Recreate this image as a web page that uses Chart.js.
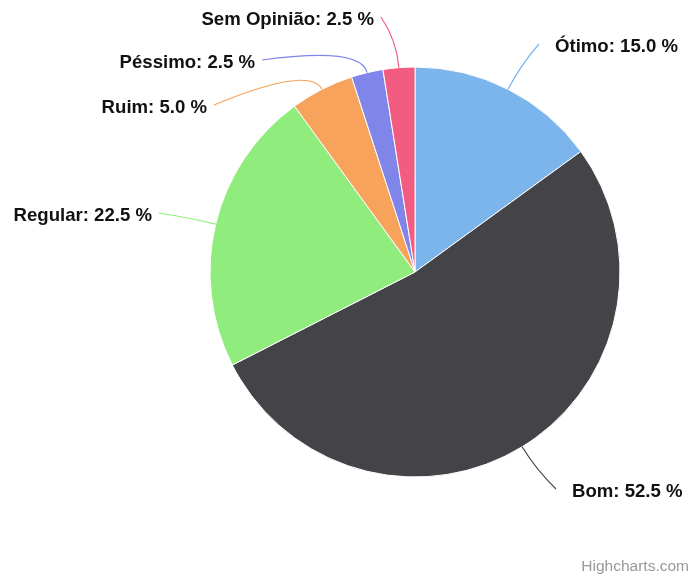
<!DOCTYPE html>
<html>
<head>
<meta charset="utf-8">
<script src="https://cdn.jsdelivr.net/npm/chart.js@4/dist/chart.umd.min.js"></script>
<style>
  html, body { margin: 0; padding: 0; background: #fff; }
  #wrap { width: 692px; height: 576px; position: relative; }
</style>
</head>
<body>
<div id="wrap"><canvas id="pie"></canvas></div>
<script>
// chart data
const categories = ['Ótimo', 'Bom', 'Regular', 'Ruim', 'Péssimo', 'Sem Opinião'];
const shares = [15.0, 52.5, 22.5, 5.0, 2.5, 2.5];
const sliceColors = ['#7cb5ec', '#434348', '#90ed7d', '#f7a35c', '#8085e9', '#f15c80'];

// where each data label text sits (x, y, side)
const labelSpots = [
    { x: 555, y: 47, side: 'right' },
    { x: 572, y: 492, side: 'right' },
    { x: 152, y: 216, side: 'left' },
    { x: 207, y: 108, side: 'left' },
    { x: 255, y: 63, side: 'left' },
    { x: 374, y: 20, side: 'left' }
];

const pieLabels = {
    id: 'pieLabels',
    afterDatasetsDraw(chart) {
        const ctx = chart.ctx;
        const meta = chart.getDatasetMeta(0);
        ctx.save();
        ctx.font = 'bold 18.6px "Liberation Sans", Arial, sans-serif';
        ctx.textBaseline = 'middle';
        meta.data.forEach((arc, i) => {
            const p = arc.getProps(['x', 'y', 'startAngle', 'endAngle', 'outerRadius'], true);
            const mid = (p.startAngle + p.endAngle) / 2;
            const ex = p.x + Math.cos(mid) * p.outerRadius;
            const ey = p.y + Math.sin(mid) * p.outerRadius;
            const ox = p.x + Math.cos(mid) * (p.outerRadius + 27);
            const oy = p.y + Math.sin(mid) * (p.outerRadius + 27);
            const spot = labelSpots[i];
            const right = spot.side === 'right';
            const lx = right ? spot.x - 16 : spot.x + 7;
            const ly = spot.y - 3;
            ctx.beginPath();
            ctx.moveTo(ex, ey);
            ctx.quadraticCurveTo(ox, oy, lx, ly);
            ctx.strokeStyle = sliceColors[i];
            ctx.lineWidth = 1.2;
            ctx.stroke();

            ctx.fillStyle = '#111';
            ctx.textAlign = right ? 'left' : 'right';
            ctx.fillText(categories[i] + ': ' + shares[i].toFixed(1) + ' %', spot.x, spot.y);
        });
        // credit
        ctx.font = '15.5px "Liberation Sans", Arial, sans-serif';
        ctx.fillStyle = '#999';
        ctx.textAlign = 'right';
        ctx.textBaseline = 'alphabetic';
        ctx.fillText('Highcharts.com', 689, 571);
        ctx.restore();
    }
};

const ctxPie = document.getElementById('pie').getContext('2d');
const pieChart = new Chart(ctxPie, {
    type: 'pie',
    data: {
        labels: categories,
        datasets: [{
            data: shares,
            backgroundColor: sliceColors,
            borderColor: '#ffffff',
            borderWidth: 1,
            hoverOffset: 0,
            radius: 205
        }]
    },
    options: {
        responsive: true,
        maintainAspectRatio: false,
        animation: false,
        layout: { padding: { left: 210, right: 72, top: 67, bottom: 99 } },
        plugins: {
            legend: { display: false },
            tooltip: { enabled: false }
        }
    },
    plugins: [pieLabels]
});
</script>
</body>
</html>
